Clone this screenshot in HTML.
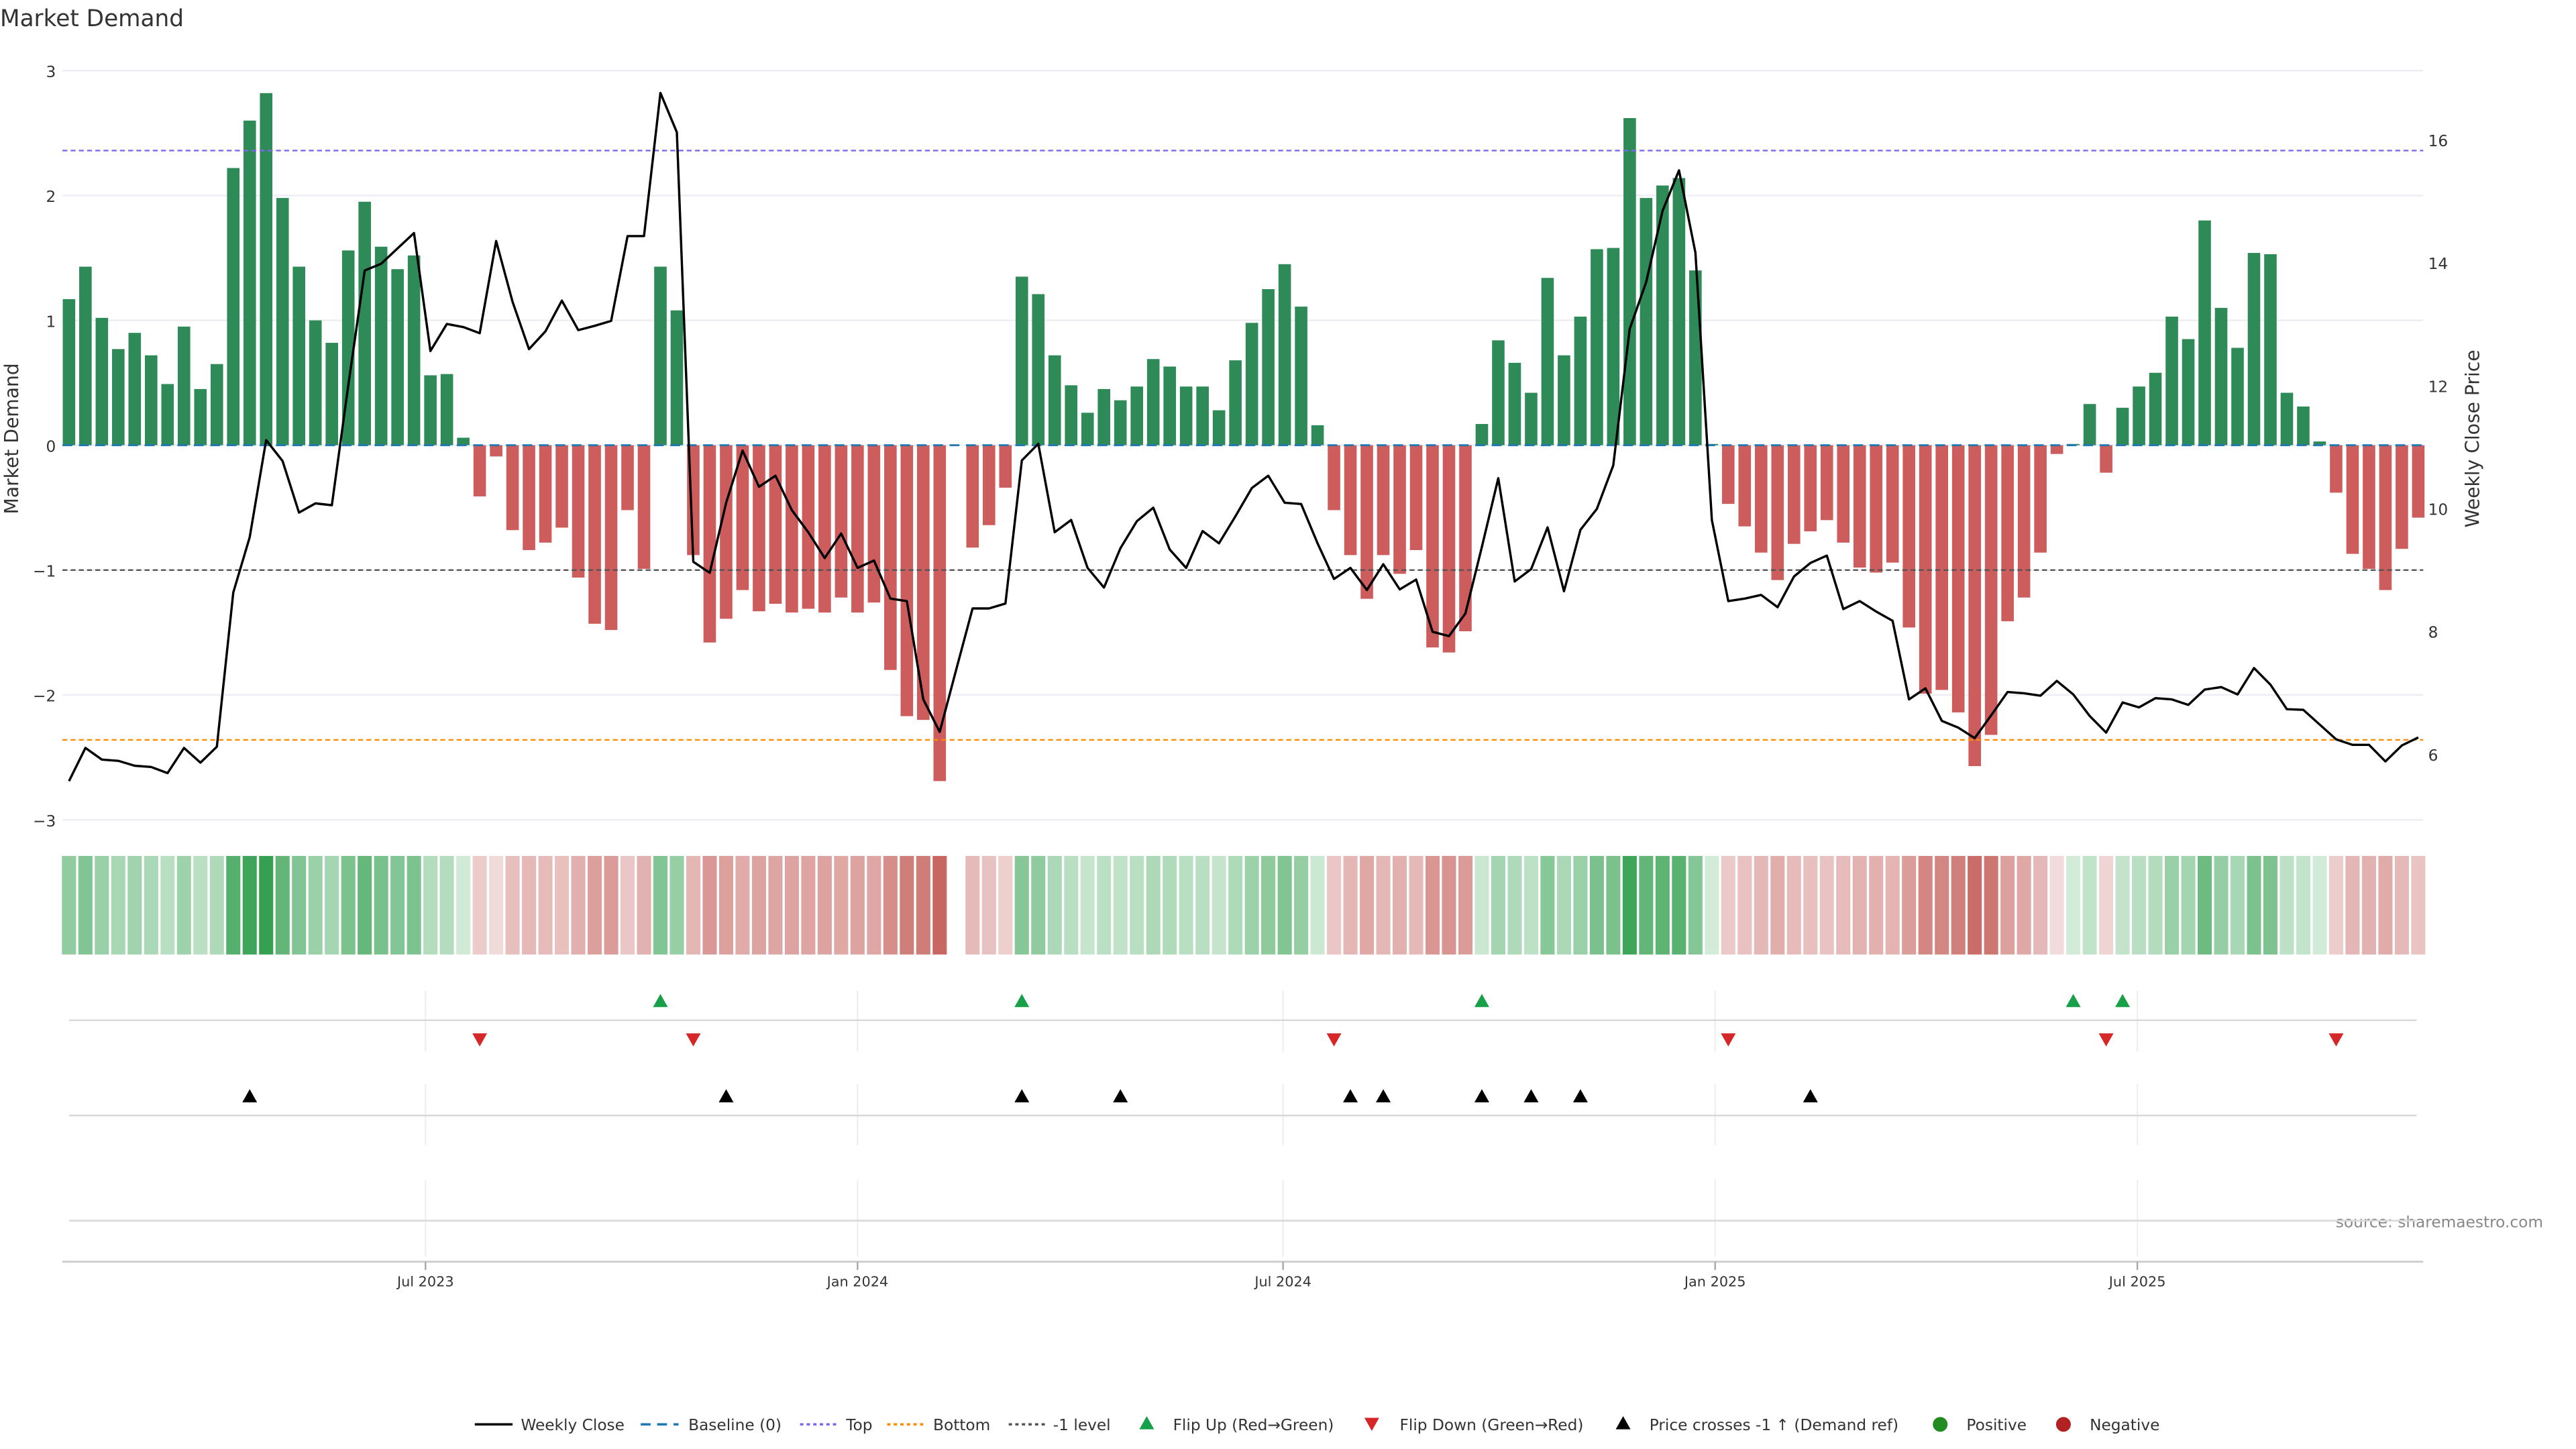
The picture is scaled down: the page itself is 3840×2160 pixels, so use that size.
<!DOCTYPE html>
<html><head><meta charset="utf-8"><style>
html,body{margin:0;padding:0;background:#fff;}
svg{display:block;font-family:"DejaVu Sans","Liberation Sans",sans-serif;}
</style></head><body>
<svg id="chart" width="3840" height="2160" viewBox="0 0 1568 882" preserveAspectRatio="none" xmlns="http://www.w3.org/2000/svg">
<text x="0" y="16" font-size="14" fill="#333">Market Demand</text>
<text transform="translate(11,267) rotate(-90)" text-anchor="middle" font-size="11.5" fill="#333">Market Demand</text>
<text transform="translate(1509,267) rotate(-90)" text-anchor="middle" font-size="11.5" fill="#333">Weekly Close Price</text>
<text x="1548" y="747" text-anchor="end" font-size="9.5" fill="#888">source: sharemaestro.com</text>
<g id="grid"></g><g id="bars"></g><g id="refs"></g><g id="price"></g><g id="heat"></g><g id="flips"></g><g id="axes"></g><g id="legend"></g>
</svg>
<script>
// Weekly demand values (144 weeks); null = missing week
const demand = [1.17,1.43,1.02,0.77,0.9,0.72,0.49,0.95,0.45,0.65,2.22,2.6,2.82,1.98,1.43,1.0,0.82,1.56,1.95,1.59,1.41,1.52,0.56,0.57,0.06,-0.41,-0.09,-0.68,-0.84,-0.78,-0.66,-1.06,-1.43,-1.48,-0.52,-0.99,1.43,1.08,-0.88,-1.58,-1.39,-1.16,-1.33,-1.27,-1.34,-1.31,-1.34,-1.22,-1.34,-1.26,-1.8,-2.17,-2.2,-2.69,null,-0.82,-0.64,-0.34,1.35,1.21,0.72,0.48,0.26,0.45,0.36,0.47,0.69,0.63,0.47,0.47,0.28,0.68,0.98,1.25,1.45,1.11,0.16,-0.52,-0.88,-1.23,-0.88,-1.03,-0.84,-1.62,-1.66,-1.49,0.17,0.84,0.66,0.42,1.34,0.72,1.03,1.57,1.58,2.62,1.98,2.08,2.14,1.4,0.01,-0.47,-0.65,-0.86,-1.08,-0.79,-0.69,-0.6,-0.78,-0.98,-1.02,-0.94,-1.46,-1.99,-1.96,-2.14,-2.57,-2.32,-1.41,-1.22,-0.86,-0.07,0.01,0.33,-0.22,0.3,0.47,0.58,1.03,0.85,1.8,1.1,0.78,1.54,1.53,0.42,0.31,0.03,-0.38,-0.87,-0.99,-1.16,-0.83,-0.58];
const price = [5.56,6.1,5.91,5.89,5.81,5.79,5.69,6.1,5.86,6.12,8.63,9.53,11.11,10.77,9.93,10.08,10.05,12.0,13.87,13.98,14.23,14.48,12.56,13.0,12.95,12.85,14.35,13.36,12.59,12.88,13.38,12.9,12.97,13.05,14.43,14.43,16.76,16.12,9.13,8.95,10.09,10.94,10.35,10.53,9.97,9.61,9.19,9.59,9.03,9.15,8.53,8.49,6.89,6.36,7.37,8.37,8.37,8.45,10.78,11.05,9.61,9.81,9.03,8.71,9.35,9.79,10.01,9.33,9.03,9.63,9.43,9.87,10.33,10.53,10.09,10.07,9.43,8.85,9.03,8.67,9.09,8.68,8.84,7.99,7.92,8.29,9.37,10.49,8.81,9.01,9.69,8.65,9.65,9.99,10.7,12.92,13.68,14.84,15.5,14.16,9.81,8.49,8.53,8.59,8.39,8.89,9.11,9.23,8.36,8.49,8.32,8.17,6.89,7.07,6.54,6.43,6.26,6.63,7.01,6.99,6.95,7.19,6.97,6.62,6.35,6.84,6.76,6.91,6.89,6.8,7.05,7.09,6.97,7.4,7.13,6.73,6.72,6.48,6.24,6.15,6.15,5.88,6.14,6.27];
const leftTicks = [3,2,1,0,-1,-2,-3];
const rightTicks = [16,14,12,10,8,6];
const monthLabels = ["Jul 2023","Jan 2024","Jul 2024","Jan 2025","Jul 2025"];
const monthWeek = [21.7,48,73.9,100.2,125.9];
const topLevel = 2.36, bottomLevel = -2.36, minusLevel = -1;
const priceRef = 9.0;

const NS="http://www.w3.org/2000/svg";
function mk(parent,tag,attrs){const e=document.createElementNS(NS,tag);for(const k in attrs)e.setAttribute(k,attrs[k]);document.getElementById(parent).appendChild(e);return e;}
const xS=i=>42+i*10;
const yL=v=>271-v*76;
const yR=p=>459-(p-6)*37.4;
const X0=38,X1=1475;

leftTicks.forEach(t=>{
  const g=mk('grid','line',{x1:X0,x2:X1,y1:yL(t),y2:yL(t),stroke:'#eceef2','stroke-width':1});
  
  
  const tx=mk('axes','text',{x:34,y:yL(t)+4,'text-anchor':'end','font-size':9.5,fill:'#333'});
  tx.textContent=(t<0?'\u2212'+(-t):t);
  
  
});
rightTicks.forEach(t=>{
  const tx=mk('axes','text',{x:1478,y:yR(t)+4,'font-size':9.5,fill:'#333'});
  tx.textContent=t;
  
  
});
demand.forEach((v,i)=>{
  if(v===null)return;
  const y=v>=0?yL(v):yL(0), h=Math.abs(yL(v)-yL(0));
  const b=mk('bars','rect',{x:xS(i)-3.8,y:y,width:7.6,height:Math.max(h,0.3),fill:v>=0?'#2e8b57':'#cd5c5c'});
  
  
});
const bl=mk('refs','line',{x1:X0,x2:X1,y1:yL(0),y2:yL(0),stroke:'#1f77b4','stroke-width':1.2,'stroke-dasharray':'6 4'});


const tl=mk('refs','line',{x1:X0,x2:X1,y1:yL(topLevel),y2:yL(topLevel),stroke:'#7b68ee','stroke-width':1,'stroke-dasharray':'3 2'});


const bo=mk('refs','line',{x1:X0,x2:X1,y1:yL(bottomLevel),y2:yL(bottomLevel),stroke:'#ff8c00','stroke-width':1,'stroke-dasharray':'3 2'});


const ml=mk('refs','line',{x1:X0,x2:X1,y1:yL(minusLevel),y2:yL(minusLevel),stroke:'#555','stroke-width':1,'stroke-dasharray':'3 2'});


const pl=mk('price','polyline',{points:price.map((p,i)=>xS(i)+','+yR(p)).join(' '),fill:'none',stroke:'#000','stroke-width':1.4,'stroke-linejoin':'round'});


function mix(a,b,t){return 'rgb('+a.map((c,k)=>Math.round(c+(b[k]-c)*t)).join(',')+')';}
demand.forEach((v,i)=>{
  if(v===null)return;
  const t=Math.min(Math.abs(v)/2.8,1);
  const col=v>=0?mix([212,236,218],[52,160,80],t):mix([242,222,222],[198,98,92],t);
  const r=mk('heat','rect',{x:xS(i)-4.3,y:521,width:8.6,height:60,fill:col});
  
  
});
[[603,640],[660,697],[718,765]].forEach(([a,b])=>{
  monthWeek.forEach(w=>{
    const g=mk('grid','line',{x1:xS(w),x2:xS(w),y1:a,y2:b,stroke:'#eef0f3','stroke-width':1});
    
    
  });
});
[621,679,743].forEach(y=>{
  const l=mk('grid','line',{x1:42,x2:1471,y1:y,y2:y,stroke:'#d8d8d8','stroke-width':1});
  
  
});
function tri(x,y,up,col,name){
  const d=up?`M${x-4.5},${y+4} L${x},${y-4} L${x+4.5},${y+4} Z`:`M${x-4.5},${y-4} L${x},${y+4} L${x+4.5},${y-4} Z`;
  const p=mk('flips','path',{d:d,fill:col});
  
  
}
for(let i=1;i<demand.length;i++){
  let j=i-1; while(j>=0&&demand[j]===null)j--;
  if(demand[i]===null||j<0)continue;
  if(demand[j]<0&&demand[i]>=0)tri(xS(i),609,true,'#18a049','flip-up-marker');
  if(demand[j]>=0&&demand[i]<0)tri(xS(i),633,false,'#d62728','flip-down-marker');
  if(price[i-1]<priceRef&&price[i]>=priceRef)tri(xS(i),667,true,'#000','price-cross-marker');
}
const ax=mk('axes','line',{x1:X0,x2:X1,y1:768,y2:768,stroke:'#ccc','stroke-width':1.2});


monthLabels.forEach((m,k)=>{
  const tk=mk('axes','line',{x1:xS(monthWeek[k]),x2:xS(monthWeek[k]),y1:768,y2:773,stroke:'#aaa'});
  
  
  const t=mk('axes','text',{x:xS(monthWeek[k]),y:783,'text-anchor':'middle','font-size':8.5,fill:'#333'});
  t.textContent=m;
  
  
});
const LY=867;
function ltext(x,s){const t=mk('legend','text',{x:x,y:LY+3.5,'font-size':9.5,fill:'#333'});t.textContent=s;}
function lline(x,col,dash,name){const l=mk('legend','line',{x1:x,x2:x+23,y1:LY,y2:LY,stroke:col,'stroke-width':1.4,'stroke-dasharray':dash});}
lline(289,'#000','none','legend-weekly-close');ltext(317,'Weekly Close');
lline(390,'#1f77b4','6 4','legend-baseline');ltext(419,'Baseline (0)');
lline(487,'#7b68ee','2 2','legend-top');ltext(515,'Top');
lline(540,'#ff8c00','2 2','legend-bottom');ltext(568,'Bottom');
lline(614,'#555','2 2','legend-minus-one');ltext(641,'-1 level');
tri(698,LY-1,true,'#18a049','legend-flip-up');ltext(714,'Flip Up (Red\u2192Green)');
tri(835,LY,false,'#d62728','legend-flip-down');ltext(852,'Flip Down (Green\u2192Red)');
tri(988,LY-1,true,'#000','legend-price-cross');ltext(1004,'Price crosses -1 \u2191 (Demand ref)');
const c1=mk('legend','circle',{cx:1181,cy:LY,r:4.5,fill:'#228b22'});ltext(1197,'Positive');
const c2=mk('legend','circle',{cx:1256,cy:LY,r:4.5,fill:'#b22222'});ltext(1272,'Negative');
</script>
</body></html>
